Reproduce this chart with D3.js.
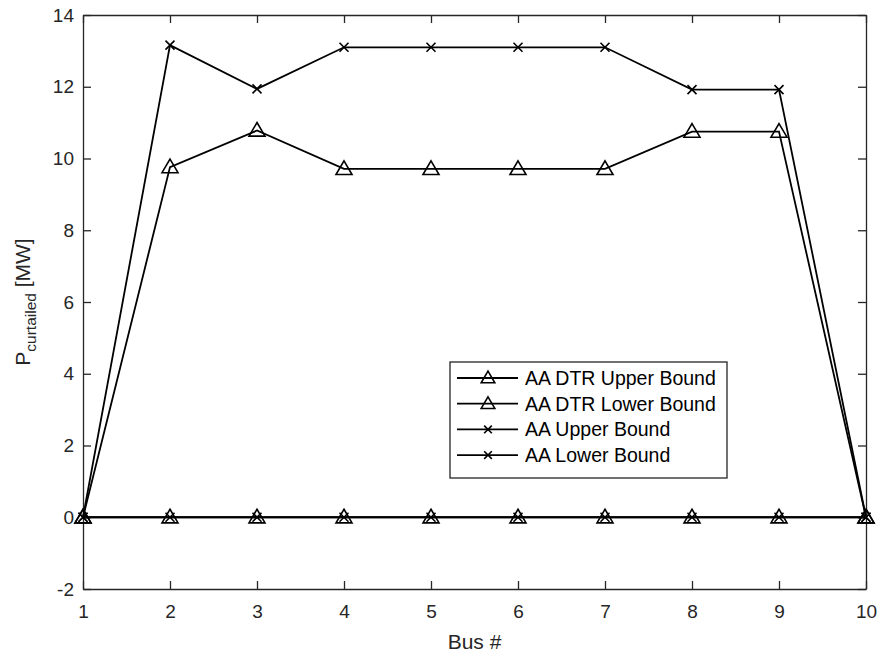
<!DOCTYPE html>
<html>
<head>
<meta charset="utf-8">
<script src="https://cdn.jsdelivr.net/npm/d3@7"></script>
<style>
  body { margin: 0; background: #fff; }
  svg { display: block; font-family: Arial, "Liberation Sans", Helvetica, sans-serif; }
</style>
</head>
<body>
<svg id="chart" width="878" height="657"></svg>
<script>
// Bus numbers along the x axis
const buses = [1, 2, 3, 4, 5, 6, 7, 8, 9, 10];
// Curtailed power per bus [MW]
const dtrUpper = [0, 9.76, 10.78, 9.71, 9.71, 9.71, 9.71, 10.75, 10.75, 0];
const dtrLower = [0, 0, 0, 0, 0, 0, 0, 0, 0, 0];
const aaUpper  = [0, 13.16, 11.94, 13.1, 13.1, 13.1, 13.1, 11.92, 11.92, 0];
const aaLower  = [0, 0, 0, 0, 0, 0, 0, 0, 0, 0];
const seriesNames = ["AA DTR Upper Bound", "AA DTR Lower Bound", "AA Upper Bound", "AA Lower Bound"];
const seriesMarkers = ["triangle", "triangle", "cross", "cross"];
const xTicks = [1, 2, 3, 4, 5, 6, 7, 8, 9, 10];
const yTicks = [-2, 0, 2, 4, 6, 8, 10, 12, 14];

const series = [dtrUpper, dtrLower, aaUpper, aaLower].map((vals, i) => ({
  name: seriesNames[i], marker: seriesMarkers[i], values: vals
}));

const svg = d3.select("#chart");
const axisColor = "#262626";
const plotL = 83, plotR = 866, plotT = 15, plotB = 589;

const x = d3.scaleLinear().domain([1, 10]).range([plotL, plotR]);
const y = d3.scaleLinear().domain([-2, 14]).range([plotB, plotT]);

// plain hyphen for negative tick labels
const fmt = d => String(d);

// axes with inward ticks on all four sides
const tickLen = 8;
function styleAxis(g) {
  g.selectAll("path").attr("stroke", axisColor).attr("stroke-width", 1.3);
  g.selectAll("line").attr("stroke", axisColor).attr("stroke-width", 1.3);
  g.selectAll("text").attr("fill", axisColor).attr("font-size", "19px")
    .attr("font-family", "Arial, 'Liberation Sans', sans-serif");
}
svg.append("g").attr("transform", `translate(0,${plotB})`)
  .call(d3.axisBottom(x).tickValues(xTicks).tickFormat(fmt)
    .tickSizeInner(-tickLen).tickSizeOuter(0).tickPadding(16))
  .call(styleAxis);
svg.append("g").attr("transform", `translate(0,${plotT})`)
  .call(d3.axisTop(x).tickValues(xTicks).tickFormat("")
    .tickSizeInner(-tickLen).tickSizeOuter(0))
  .call(styleAxis);
svg.append("g").attr("transform", `translate(${plotL},0)`)
  .call(d3.axisLeft(y).tickValues(yTicks).tickFormat(fmt)
    .tickSizeInner(-tickLen).tickSizeOuter(0).tickPadding(9))
  .call(styleAxis);
svg.append("g").attr("transform", `translate(${plotR},0)`)
  .call(d3.axisRight(y).tickValues(yTicks).tickFormat("")
    .tickSizeInner(-tickLen).tickSizeOuter(0))
  .call(styleAxis);

// axis labels
svg.append("text").attr("x", (plotL + plotR) / 2).attr("y", 649)
  .attr("text-anchor", "middle").attr("font-size", "21px").attr("fill", axisColor)
  .text("Bus #");
const yl = svg.append("text")
  .attr("transform", `translate(30,${(plotT + plotB) / 2}) rotate(-90)`)
  .attr("text-anchor", "middle").attr("font-size", "21px").attr("fill", axisColor);
yl.append("tspan").text("P");
yl.append("tspan").attr("font-size", "15.5px").attr("dy", 6).text("curtailed");
yl.append("tspan").attr("dy", -6).text(" [MW]");

// markers
function drawMarker(g, type, cx, cy, k = 1) {
  if (type === "triangle") {
    const s = 8 * k;
    g.append("path")
      .attr("d", `M${cx},${cy - s} L${cx + s},${cy + s * 0.7} L${cx - s},${cy + s * 0.7} Z`)
      .attr("fill", "none").attr("stroke", "#000").attr("stroke-width", 1.6);
  } else {
    const s = 4.5 * k;
    g.append("path")
      .attr("d", `M${cx - s},${cy - s} L${cx + s},${cy + s} M${cx - s},${cy + s} L${cx + s},${cy - s}`)
      .attr("stroke", "#000").attr("stroke-width", 1.6);
  }
}

const line = d3.line().x((d, i) => x(buses[i])).y(d => y(d));
series.forEach(s => {
  const g = svg.append("g");
  g.append("path").datum(s.values).attr("d", line)
    .attr("fill", "none").attr("stroke", "#000").attr("stroke-width", 1.8);
  s.values.forEach((v, i) => drawMarker(g, s.marker, x(buses[i]), y(v)));
});

// legend
const lg = svg.append("g");
lg.append("rect").attr("x", 450).attr("y", 362).attr("width", 277).attr("height", 116)
  .attr("fill", "#fff").attr("stroke", axisColor).attr("stroke-width", 1.3);
series.forEach((s, i) => {
  const ry = 378 + i * 25.7;
  lg.append("line").attr("x1", 457).attr("x2", 518).attr("y1", ry).attr("y2", ry)
    .attr("stroke", "#000").attr("stroke-width", 1.8);
  drawMarker(lg, s.marker, 488, ry, 0.85);
  lg.append("text").attr("x", 525).attr("y", ry + 7).attr("font-size", "19.5px")
    .attr("fill", "#000").text(s.name);
});
</script>
</body>
</html>
